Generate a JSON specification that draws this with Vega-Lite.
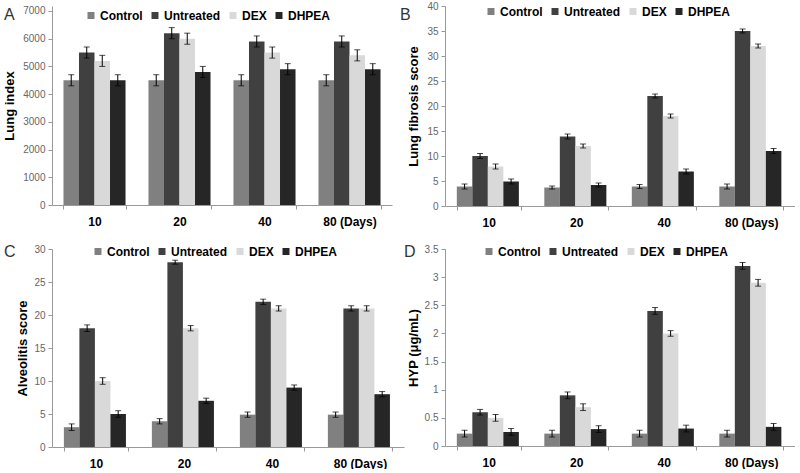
{
  "$schema": "https://vega.github.io/schema/vega-lite/v6.json",
  "background": "white",
  "padding": {"left": 3, "top": 1, "right": 0, "bottom": 0},
  "config": {
    "font": "Liberation Sans",
    "view": {"stroke": null},
    "axisX": {"labelAngle": 0, "labelFontWeight": "bold", "labelFontSize": 12, "labelColor": "black", "domainColor": "#999", "tickColor": "#999", "tickSize": 4, "tickBand": "extent", "labelPadding": 7, "title": null},
    "axisY": {"grid": false, "domainColor": "#999", "tickColor": "#999", "tickSize": 4, "labelColor": "#666", "labelFontSize": 10, "labelPadding": 3, "labelOverlap": false, "titleFontWeight": "bold", "titleFontSize": 13, "titleColor": "black"},
    "legend": {"orient": "none", "direction": "horizontal", "title": null, "symbolType": "square", "symbolSize": 49, "symbolStrokeWidth": 0, "labelFontSize": 12, "labelFontWeight": "bold", "labelColor": "black", "columnPadding": 6, "labelOffset": 3},
    "title": {"fontSize": 16, "fontWeight": "normal", "color": "#333", "anchor": "start", "frame": "group", "offset": 0},
    "concat": {"spacing": 0}
  },
  "datasets": {
    "A": [
      {"day": "10", "grp": "Control", "v": 4500, "lo": 4300, "hi": 4700},
      {"day": "10", "grp": "Untreated", "v": 5500, "lo": 5300, "hi": 5700},
      {"day": "10", "grp": "DEX", "v": 5200, "lo": 5000, "hi": 5400},
      {"day": "10", "grp": "DHPEA", "v": 4500, "lo": 4300, "hi": 4700},
      {"day": "20", "grp": "Control", "v": 4500, "lo": 4300, "hi": 4700},
      {"day": "20", "grp": "Untreated", "v": 6200, "lo": 6000, "hi": 6400},
      {"day": "20", "grp": "DEX", "v": 6000, "lo": 5800, "hi": 6200},
      {"day": "20", "grp": "DHPEA", "v": 4800, "lo": 4600, "hi": 5000},
      {"day": "40", "grp": "Control", "v": 4500, "lo": 4300, "hi": 4700},
      {"day": "40", "grp": "Untreated", "v": 5900, "lo": 5700, "hi": 6100},
      {"day": "40", "grp": "DEX", "v": 5500, "lo": 5300, "hi": 5700},
      {"day": "40", "grp": "DHPEA", "v": 4900, "lo": 4700, "hi": 5100},
      {"day": "80 (Days)", "grp": "Control", "v": 4500, "lo": 4300, "hi": 4700},
      {"day": "80 (Days)", "grp": "Untreated", "v": 5900, "lo": 5700, "hi": 6100},
      {"day": "80 (Days)", "grp": "DEX", "v": 5400, "lo": 5200, "hi": 5600},
      {"day": "80 (Days)", "grp": "DHPEA", "v": 4900, "lo": 4700, "hi": 5100}
    ],
    "B": [
      {"day": "10", "grp": "Control", "v": 3.9, "lo": 3.4, "hi": 4.4},
      {"day": "10", "grp": "Untreated", "v": 10, "lo": 9.5, "hi": 10.5},
      {"day": "10", "grp": "DEX", "v": 7.9, "lo": 7.4, "hi": 8.4},
      {"day": "10", "grp": "DHPEA", "v": 4.9, "lo": 4.4, "hi": 5.4},
      {"day": "20", "grp": "Control", "v": 3.7, "lo": 3.4, "hi": 4.0},
      {"day": "20", "grp": "Untreated", "v": 13.9, "lo": 13.4, "hi": 14.4},
      {"day": "20", "grp": "DEX", "v": 12, "lo": 11.6, "hi": 12.4},
      {"day": "20", "grp": "DHPEA", "v": 4.2, "lo": 3.8, "hi": 4.6},
      {"day": "40", "grp": "Control", "v": 3.9, "lo": 3.5, "hi": 4.3},
      {"day": "40", "grp": "Untreated", "v": 22, "lo": 21.6, "hi": 22.4},
      {"day": "40", "grp": "DEX", "v": 18, "lo": 17.6, "hi": 18.4},
      {"day": "40", "grp": "DHPEA", "v": 6.9, "lo": 6.4, "hi": 7.4},
      {"day": "80 (Days)", "grp": "Control", "v": 3.9, "lo": 3.4, "hi": 4.4},
      {"day": "80 (Days)", "grp": "Untreated", "v": 35, "lo": 34.6, "hi": 35.4},
      {"day": "80 (Days)", "grp": "DEX", "v": 32, "lo": 31.6, "hi": 32.4},
      {"day": "80 (Days)", "grp": "DHPEA", "v": 11, "lo": 10.5, "hi": 11.5}
    ],
    "C": [
      {"day": "10", "grp": "Control", "v": 3, "lo": 2.5, "hi": 3.5},
      {"day": "10", "grp": "Untreated", "v": 18, "lo": 17.5, "hi": 18.5},
      {"day": "10", "grp": "DEX", "v": 10, "lo": 9.5, "hi": 10.5},
      {"day": "10", "grp": "DHPEA", "v": 5, "lo": 4.5, "hi": 5.5},
      {"day": "20", "grp": "Control", "v": 3.9, "lo": 3.5, "hi": 4.3},
      {"day": "20", "grp": "Untreated", "v": 28, "lo": 27.7, "hi": 28.3},
      {"day": "20", "grp": "DEX", "v": 18, "lo": 17.6, "hi": 18.4},
      {"day": "20", "grp": "DHPEA", "v": 7, "lo": 6.6, "hi": 7.4},
      {"day": "40", "grp": "Control", "v": 4.9, "lo": 4.5, "hi": 5.3},
      {"day": "40", "grp": "Untreated", "v": 22, "lo": 21.6, "hi": 22.4},
      {"day": "40", "grp": "DEX", "v": 21, "lo": 20.6, "hi": 21.4},
      {"day": "40", "grp": "DHPEA", "v": 9, "lo": 8.6, "hi": 9.4},
      {"day": "80 (Days)", "grp": "Control", "v": 4.9, "lo": 4.5, "hi": 5.3},
      {"day": "80 (Days)", "grp": "Untreated", "v": 21, "lo": 20.6, "hi": 21.4},
      {"day": "80 (Days)", "grp": "DEX", "v": 21, "lo": 20.6, "hi": 21.4},
      {"day": "80 (Days)", "grp": "DHPEA", "v": 8, "lo": 7.6, "hi": 8.4}
    ],
    "D": [
      {"day": "10", "grp": "Control", "v": 0.22, "lo": 0.16, "hi": 0.28},
      {"day": "10", "grp": "Untreated", "v": 0.6, "lo": 0.55, "hi": 0.65},
      {"day": "10", "grp": "DEX", "v": 0.5, "lo": 0.44, "hi": 0.56},
      {"day": "10", "grp": "DHPEA", "v": 0.25, "lo": 0.19, "hi": 0.31},
      {"day": "20", "grp": "Control", "v": 0.22, "lo": 0.16, "hi": 0.28},
      {"day": "20", "grp": "Untreated", "v": 0.9, "lo": 0.84, "hi": 0.96},
      {"day": "20", "grp": "DEX", "v": 0.69, "lo": 0.63, "hi": 0.75},
      {"day": "20", "grp": "DHPEA", "v": 0.3, "lo": 0.24, "hi": 0.36},
      {"day": "40", "grp": "Control", "v": 0.22, "lo": 0.16, "hi": 0.28},
      {"day": "40", "grp": "Untreated", "v": 2.4, "lo": 2.34, "hi": 2.46},
      {"day": "40", "grp": "DEX", "v": 2.0, "lo": 1.95, "hi": 2.05},
      {"day": "40", "grp": "DHPEA", "v": 0.31, "lo": 0.25, "hi": 0.37},
      {"day": "80 (Days)", "grp": "Control", "v": 0.22, "lo": 0.16, "hi": 0.28},
      {"day": "80 (Days)", "grp": "Untreated", "v": 3.2, "lo": 3.14, "hi": 3.26},
      {"day": "80 (Days)", "grp": "DEX", "v": 2.9, "lo": 2.84, "hi": 2.96},
      {"day": "80 (Days)", "grp": "DHPEA", "v": 0.34, "lo": 0.28, "hi": 0.4}
    ]
  },
  "spacing": 16,
  "resolve": {"legend": {"color": "independent"}},
  "vconcat": [
    {
      "spacing": 8,
      "resolve": {"legend": {"color": "independent"}},
      "hconcat": [
        {
          "width": 340, "height": 199,
          "title": {"text": "A", "dx": -48, "dy": 21.5},
          "data": {"name": "A"},
          "encoding": {
            "x": {"field": "day", "type": "nominal", "sort": null, "scale": {"paddingInner": 0.27, "paddingOuter": 0.135}},
            "xOffset": {"field": "grp", "type": "nominal", "sort": ["Control", "Untreated", "DEX", "DHPEA"]}
          },
          "layer": [
            {"mark": "bar", "encoding": {
              "y": {"field": "v", "type": "quantitative", "title": "Lung index", "scale": {"domain": [0, 7180], "nice": false}, "axis": {"values": [0, 1000, 2000, 3000, 4000, 5000, 6000, 7000], "format": "d", "titleX": -35.5}},
              "color": {"field": "grp", "type": "nominal", "scale": {"domain": ["Control", "Untreated", "DEX", "DHPEA"], "range": ["#808080", "#404040", "#d9d9d9", "#262626"]}, "legend": {"legendX": 33, "legendY": 3.5}}}},
            {"mark": {"type": "rule", "color": "black"}, "encoding": {"y": {"field": "lo", "type": "quantitative", "title": "Lung index", "axis": {"values": [0, 1000, 2000, 3000, 4000, 5000, 6000, 7000], "format": "d", "titleX": -35.5}}, "y2": {"field": "hi"}}},
            {"mark": {"type": "tick", "color": "black", "thickness": 1, "size": 6}, "encoding": {"y": {"field": "lo", "type": "quantitative", "title": "Lung index", "axis": {"values": [0, 1000, 2000, 3000, 4000, 5000, 6000, 7000], "format": "d", "titleX": -35.5}}}},
            {"mark": {"type": "tick", "color": "black", "thickness": 1, "size": 6}, "encoding": {"y": {"field": "hi", "type": "quantitative", "title": "Lung index", "axis": {"values": [0, 1000, 2000, 3000, 4000, 5000, 6000, 7000], "format": "d", "titleX": -35.5}}}}
          ]
        },
        {
          "width": 350, "height": 200,
          "title": {"text": "B", "dx": -45, "dy": 25.5},
          "data": {"name": "B"},
          "encoding": {
            "x": {"field": "day", "type": "nominal", "sort": null, "scale": {"paddingInner": 0.27, "paddingOuter": 0.135}},
            "xOffset": {"field": "grp", "type": "nominal", "sort": ["Control", "Untreated", "DEX", "DHPEA"]}
          },
          "layer": [
            {"mark": "bar", "encoding": {
              "y": {"field": "v", "type": "quantitative", "title": "Lung fibrosis score", "scale": {"domain": [0, 40], "nice": false}, "axis": {"values": [0, 5, 10, 15, 20, 25, 30, 35, 40], "format": "d", "titleX": -25}},
              "color": {"field": "grp", "type": "nominal", "scale": {"domain": ["Control", "Untreated", "DEX", "DHPEA"], "range": ["#808080", "#404040", "#d9d9d9", "#262626"]}, "legend": {"legendX": 40, "legendY": -0.5}}}},
            {"mark": {"type": "rule", "color": "black"}, "encoding": {"y": {"field": "lo", "type": "quantitative", "title": "Lung fibrosis score", "axis": {"values": [0, 5, 10, 15, 20, 25, 30, 35, 40], "format": "d", "titleX": -25}}, "y2": {"field": "hi"}}},
            {"mark": {"type": "tick", "color": "black", "thickness": 1, "size": 6}, "encoding": {"y": {"field": "lo", "type": "quantitative", "title": "Lung fibrosis score", "axis": {"values": [0, 5, 10, 15, 20, 25, 30, 35, 40], "format": "d", "titleX": -25}}}},
            {"mark": {"type": "tick", "color": "black", "thickness": 1, "size": 6}, "encoding": {"y": {"field": "hi", "type": "quantitative", "title": "Lung fibrosis score", "axis": {"values": [0, 5, 10, 15, 20, 25, 30, 35, 40], "format": "d", "titleX": -25}}}}
          ]
        }
      ]
    },
    {
      "spacing": 0,
      "resolve": {"legend": {"color": "independent"}},
      "hconcat": [
        {
          "width": 352, "height": 198,
          "title": {"text": "C", "dx": -48, "dy": 20},
          "data": {"name": "C"},
          "encoding": {
            "x": {"field": "day", "type": "nominal", "sort": null, "scale": {"paddingInner": 0.27, "paddingOuter": 0.135}},
            "xOffset": {"field": "grp", "type": "nominal", "sort": ["Control", "Untreated", "DEX", "DHPEA"]}
          },
          "layer": [
            {"mark": "bar", "encoding": {
              "y": {"field": "v", "type": "quantitative", "title": "Alveolitis score", "scale": {"domain": [0, 30], "nice": false}, "axis": {"values": [0, 5, 10, 15, 20, 25, 30], "format": "d", "titleX": -22.5}},
              "color": {"field": "grp", "type": "nominal", "scale": {"domain": ["Control", "Untreated", "DEX", "DHPEA"], "range": ["#808080", "#404040", "#d9d9d9", "#262626"]}, "legend": {"legendX": 40, "legendY": -3.5}}}},
            {"mark": {"type": "rule", "color": "black"}, "encoding": {"y": {"field": "lo", "type": "quantitative", "title": "Alveolitis score", "axis": {"values": [0, 5, 10, 15, 20, 25, 30], "format": "d", "titleX": -22.5}}, "y2": {"field": "hi"}}},
            {"mark": {"type": "tick", "color": "black", "thickness": 1, "size": 6}, "encoding": {"y": {"field": "lo", "type": "quantitative", "title": "Alveolitis score", "axis": {"values": [0, 5, 10, 15, 20, 25, 30], "format": "d", "titleX": -22.5}}}},
            {"mark": {"type": "tick", "color": "black", "thickness": 1, "size": 6}, "encoding": {"y": {"field": "hi", "type": "quantitative", "title": "Alveolitis score", "axis": {"values": [0, 5, 10, 15, 20, 25, 30], "format": "d", "titleX": -22.5}}}}
          ]
        },
        {
          "width": 350, "height": 197,
          "title": {"text": "D", "dx": -41, "dy": 20},
          "data": {"name": "D"},
          "encoding": {
            "x": {"field": "day", "type": "nominal", "sort": null, "scale": {"paddingInner": 0.27, "paddingOuter": 0.135}},
            "xOffset": {"field": "grp", "type": "nominal", "sort": ["Control", "Untreated", "DEX", "DHPEA"]}
          },
          "layer": [
            {"mark": "bar", "encoding": {
              "y": {"field": "v", "type": "quantitative", "title": "HYP (μg/mL)", "scale": {"domain": [0, 3.5], "nice": false}, "axis": {"values": [0, 0.5, 1, 1.5, 2, 2.5, 3, 3.5], "format": "~g", "titleX": -24.5}},
              "color": {"field": "grp", "type": "nominal", "scale": {"domain": ["Control", "Untreated", "DEX", "DHPEA"], "range": ["#808080", "#404040", "#d9d9d9", "#262626"]}, "legend": {"legendX": 38, "legendY": -3.5}}}},
            {"mark": {"type": "rule", "color": "black"}, "encoding": {"y": {"field": "lo", "type": "quantitative", "title": "HYP (μg/mL)", "axis": {"values": [0, 0.5, 1, 1.5, 2, 2.5, 3, 3.5], "format": "~g", "titleX": -24.5}}, "y2": {"field": "hi"}}},
            {"mark": {"type": "tick", "color": "black", "thickness": 1, "size": 6}, "encoding": {"y": {"field": "lo", "type": "quantitative", "title": "HYP (μg/mL)", "axis": {"values": [0, 0.5, 1, 1.5, 2, 2.5, 3, 3.5], "format": "~g", "titleX": -24.5}}}},
            {"mark": {"type": "tick", "color": "black", "thickness": 1, "size": 6}, "encoding": {"y": {"field": "hi", "type": "quantitative", "title": "HYP (μg/mL)", "axis": {"values": [0, 0.5, 1, 1.5, 2, 2.5, 3, 3.5], "format": "~g", "titleX": -24.5}}}}
          ]
        }
      ]
    }
  ]
}
